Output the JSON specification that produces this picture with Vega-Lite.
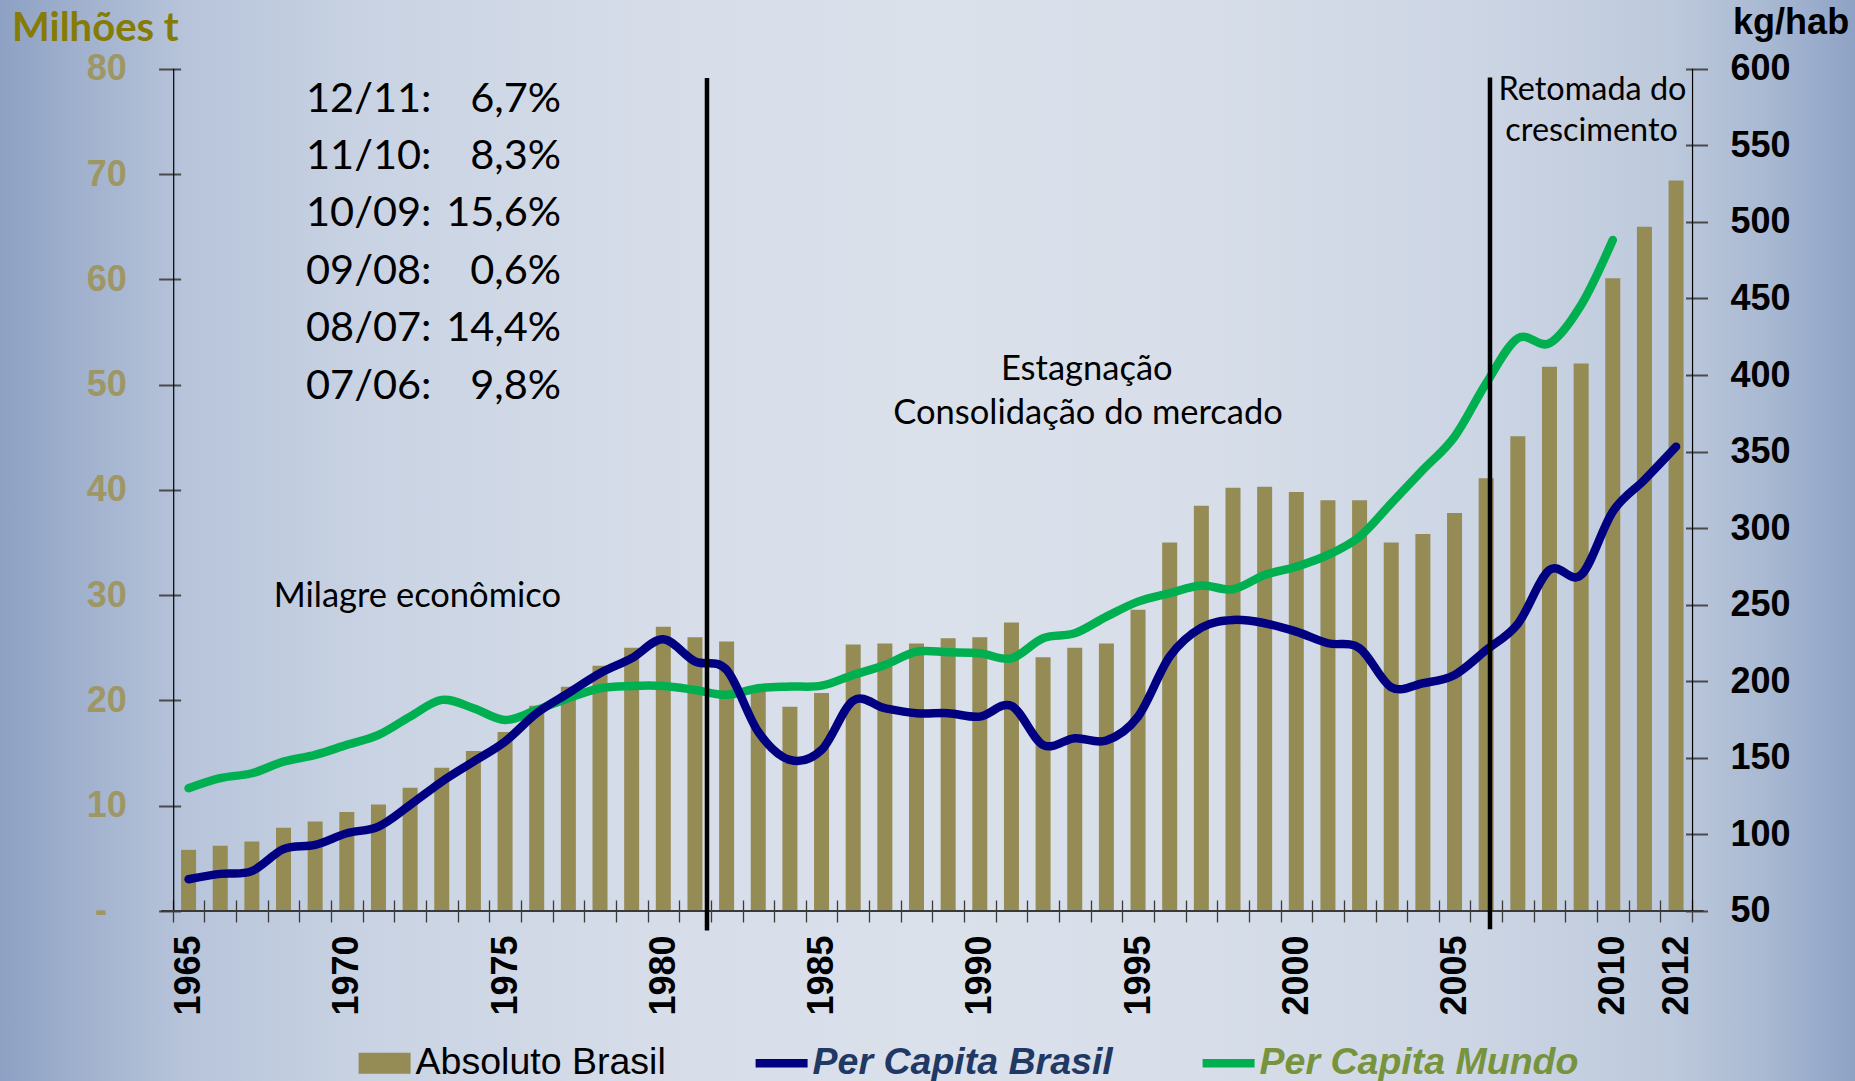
{
  "$schema": "https://vega.github.io/schema/vega-lite/v6.json",
  "width": 1855,
  "height": 1081,
  "autosize": {"type": "none"},
  "padding": 0,
  "background": "#C8D2E3",
  "view": {
    "stroke": null,
    "fill": {
      "gradient": "linear", "x1": 0, "y1": 0, "x2": 1, "y2": 0,
      "stops": [
        {"offset": 0.0, "color": "#8EA1C4"},
        {"offset": 0.05, "color": "#A3B3CF"},
        {"offset": 0.1, "color": "#B7C4DA"},
        {"offset": 0.2, "color": "#C9D3E3"},
        {"offset": 0.35, "color": "#D6DDE9"},
        {"offset": 0.5, "color": "#DBE1EB"},
        {"offset": 0.65, "color": "#D7DEE9"},
        {"offset": 0.8, "color": "#CCD5E4"},
        {"offset": 0.9, "color": "#BDC9DC"},
        {"offset": 0.95, "color": "#AABAD3"},
        {"offset": 1.0, "color": "#8EA2C5"}
      ]
    }
  },
  "config": {
    "axis": {"grid": false},
    "axisX": {"labelOverlap": false},
    "font": "Liberation Sans"
  },
  "datasets": {
    "main": [
      {"year": 1965, "abs": 5.8, "Per Capita Brasil": 70.7, "Per Capita Mundo": 130.1},
      {"year": 1966, "abs": 6.2, "Per Capita Brasil": 74.2, "Per Capita Mundo": 136.7},
      {"year": 1967, "abs": 6.6, "Per Capita Brasil": 76.0, "Per Capita Mundo": 139.9},
      {"year": 1968, "abs": 7.9, "Per Capita Brasil": 90.3, "Per Capita Mundo": 147.5},
      {"year": 1969, "abs": 8.5, "Per Capita Brasil": 93.1, "Per Capita Mundo": 151.9},
      {"year": 1970, "abs": 9.4, "Per Capita Brasil": 100.7, "Per Capita Mundo": 158.4},
      {"year": 1971, "abs": 10.1, "Per Capita Brasil": 105.1, "Per Capita Mundo": 164.9},
      {"year": 1972, "abs": 11.7, "Per Capita Brasil": 119.2, "Per Capita Mundo": 176.9},
      {"year": 1973, "abs": 13.6, "Per Capita Brasil": 134.4, "Per Capita Mundo": 187.8},
      {"year": 1974, "abs": 15.2, "Per Capita Brasil": 147.5, "Per Capita Mundo": 182.4},
      {"year": 1975, "abs": 17.0, "Per Capita Brasil": 160.6, "Per Capita Mundo": 174.7},
      {"year": 1976, "abs": 19.5, "Per Capita Brasil": 179.1, "Per Capita Mundo": 181.3},
      {"year": 1977, "abs": 21.3, "Per Capita Brasil": 192.2, "Per Capita Mundo": 188.9},
      {"year": 1978, "abs": 23.3, "Per Capita Brasil": 205.2, "Per Capita Mundo": 195.4},
      {"year": 1979, "abs": 25.0, "Per Capita Brasil": 215.0, "Per Capita Mundo": 196.9},
      {"year": 1980, "abs": 27.0, "Per Capita Brasil": 227.4, "Per Capita Mundo": 196.9},
      {"year": 1981, "abs": 26.0, "Per Capita Brasil": 213.0, "Per Capita Mundo": 194.3},
      {"year": 1982, "abs": 25.6, "Per Capita Brasil": 207.4, "Per Capita Mundo": 191.1},
      {"year": 1983, "abs": 21.0, "Per Capita Brasil": 167.0, "Per Capita Mundo": 195.4},
      {"year": 1984, "abs": 19.4, "Per Capita Brasil": 148.6, "Per Capita Mundo": 196.5},
      {"year": 1985, "abs": 20.7, "Per Capita Brasil": 155.1, "Per Capita Mundo": 197.1},
      {"year": 1986, "abs": 25.3, "Per Capita Brasil": 187.3, "Per Capita Mundo": 204.1},
      {"year": 1987, "abs": 25.4, "Per Capita Brasil": 182.4, "Per Capita Mundo": 210.6},
      {"year": 1988, "abs": 25.4, "Per Capita Brasil": 179.1, "Per Capita Mundo": 219.3},
      {"year": 1989, "abs": 25.9, "Per Capita Brasil": 179.1, "Per Capita Mundo": 218.9},
      {"year": 1990, "abs": 26.0, "Per Capita Brasil": 176.9, "Per Capita Mundo": 218.3},
      {"year": 1991, "abs": 27.4, "Per Capita Brasil": 183.9, "Per Capita Mundo": 215.0},
      {"year": 1992, "abs": 24.1, "Per Capita Brasil": 158.4, "Per Capita Mundo": 228.1},
      {"year": 1993, "abs": 25.0, "Per Capita Brasil": 162.8, "Per Capita Mundo": 231.3},
      {"year": 1994, "abs": 25.4, "Per Capita Brasil": 161.3, "Per Capita Mundo": 242.2},
      {"year": 1995, "abs": 28.6, "Per Capita Brasil": 176.9, "Per Capita Mundo": 252.0},
      {"year": 1996, "abs": 35.0, "Per Capita Brasil": 216.1, "Per Capita Mundo": 257.5},
      {"year": 1997, "abs": 38.5, "Per Capita Brasil": 235.0, "Per Capita Mundo": 262.5},
      {"year": 1998, "abs": 40.2, "Per Capita Brasil": 240.0, "Per Capita Mundo": 260.1},
      {"year": 1999, "abs": 40.3, "Per Capita Brasil": 237.9, "Per Capita Mundo": 269.4},
      {"year": 2000, "abs": 39.8, "Per Capita Brasil": 232.4, "Per Capita Mundo": 274.8},
      {"year": 2001, "abs": 39.0, "Per Capita Brasil": 224.8, "Per Capita Mundo": 282.5},
      {"year": 2002, "abs": 39.0, "Per Capita Brasil": 221.6, "Per Capita Mundo": 294.4},
      {"year": 2003, "abs": 35.0, "Per Capita Brasil": 196.1, "Per Capita Mundo": 316.2},
      {"year": 2004, "abs": 35.8, "Per Capita Brasil": 198.7, "Per Capita Mundo": 338.0},
      {"year": 2005, "abs": 37.8, "Per Capita Brasil": 204.1, "Per Capita Mundo": 359.7},
      {"year": 2006, "abs": 41.1, "Per Capita Brasil": 220.4, "Per Capita Mundo": 394.6},
      {"year": 2007, "abs": 45.1, "Per Capita Brasil": 237.5, "Per Capita Mundo": 424.0},
      {"year": 2008, "abs": 51.7, "Per Capita Brasil": 272.7, "Per Capita Mundo": 420.7},
      {"year": 2009, "abs": 52.0, "Per Capita Brasil": 269.4, "Per Capita Mundo": 445.7},
      {"year": 2010, "abs": 60.1, "Per Capita Brasil": 310.8, "Per Capita Mundo": 488.2},
      {"year": 2011, "abs": 65.0, "Per Capita Brasil": 331.5, "Per Capita Mundo": null},
      {"year": 2012, "abs": 69.4, "Per Capita Brasil": 353.2, "Per Capita Mundo": null}
    ],
    "growth": [
      {"p": "12/11:", "g": "6,7%", "v": 75.92},
      {"p": "11/10:", "g": "8,3%", "v": 70.47},
      {"p": "10/09:", "g": "15,6%", "v": 65.02},
      {"p": "09/08:", "g": "0,6%", "v": 59.57},
      {"p": "08/07:", "g": "14,4%", "v": 54.11},
      {"p": "07/06:", "g": "9,8%", "v": 48.66}
    ],
    "notesA": [
      {"t": "Milagre econômico", "x": 1972.23, "v": 28.9},
      {"t": "Estagnação", "x": 1993.38, "v": 50.42},
      {"t": "Consolidação do mercado", "x": 1993.42, "v": 46.24}
    ],
    "notesB": [
      {"t": "Retomada do", "x": 2009.36, "v": 77.03},
      {"t": "crescimento", "x": 2009.33, "v": 73.14}
    ],
    "dividers": [
      {"x": 1981.38, "top": 79.13, "bottom": -1.86},
      {"x": 2006.12, "top": 79.17, "bottom": -1.75}
    ]
  },
  "layer": [
    {
      "data": {"name": "main"},
      "mark": {"type": "bar", "width": 15, "color": "#958B55"},
      "encoding": {
        "x": {
          "field": "year", "type": "quantitative",
          "scale": {"domain": [1959.2, 2017.495], "nice": false, "zero": false},
          "axis": {
            "orient": "bottom", "offset": -181, "tickCount": 200,
            "values": [1964,1965,1966,1967,1968,1969,1970,1971,1972,1973,1974,1975,1976,1977,1978,1979,1980,1981,1982,1983,1984,1985,1986,1987,1988,1989,1990,1991,1992,1993,1994,1995,1996,1997,1998,1999,2000,2001,2002,2003,2004,2005,2006,2007,2008,2009,2010,2011,2012],
            "format": "d",
            "labelExpr": "indexof([1965,1970,1975,1980,1985,1990,1995,2000,2005,2010,2012], datum.value) >= 0 ? datum.label : ''",
            "labelFontSize": {"condition": {"test": "indexof([1965,1970,1975,1980,1985,1990,1995,2000,2005,2010,2012], datum.value) >= 0", "value": 36}, "value": 4},
            "tickOffset": 15.91, "labelOffset": -15.91,
            "domain": false, "ticks": true, "tickSize": 22, "tickColor": "#3a3a3a", "tickWidth": 1.3,
            "labelAngle": -90, "labelAlign": "right", "labelBaseline": "middle", "labelPadding": 13,
            "labelFont": "Liberation Sans", "labelFontWeight": "bold", "labelColor": "#000000",
            "labelOverlap": false, "labelFlush": false, "labelBound": false,
            "title": null, "grid": false
          }
        },
        "y": {
          "field": "abs", "type": "quantitative",
          "scale": {"domain": [-16.16, 86.536], "nice": false, "zero": false},
          "axis": {
            "orient": "left", "offset": -180.6,
            "values": [0, 10, 20, 30, 40, 50, 60, 70, 80],
            "labelExpr": "datum.value === 0 ? '-' : datum.label",
            "labelPadding": {"condition": {"test": "datum.value === 0", "value": 52}, "value": 32.3},
            "domain": false, "ticks": true, "tickSize": 22, "tickColor": "#4a4a4a", "tickWidth": 2,
            "labelFont": "Liberation Sans", "labelFontSize": 36, "labelFontWeight": "bold",
            "labelColor": "#9E9663", "labelBaseline": "middle",
            "title": "Milhões t", "titleFont": "Lato", "titleFontSize": 40, "titleFontWeight": "bold",
            "titleColor": "#857B05", "titleAngle": 0, "titleX": -169.1, "titleY": 40,
            "titleAlign": "left", "titleBaseline": "alphabetic", "grid": false
          }
        },
        "y2": {"datum": 0}
      }
    },
    {
      "data": {"values": [{}]},
      "mark": {"type": "rule", "color": "#000000", "strokeWidth": 1.2},
      "encoding": {
        "x": {"datum": 1964.53, "type": "quantitative", "scale": {"domain": [1959.2, 2017.495], "nice": false, "zero": false}},
        "y": {"datum": 0, "type": "quantitative", "scale": {"domain": [-16.16, 86.536], "nice": false, "zero": false}, "axis": null},
        "y2": {"datum": 80}
      }
    },
    {
      "data": {"values": [{}]},
      "mark": {"type": "rule", "color": "#3a3a3a", "strokeWidth": 2},
      "encoding": {
        "x": {"datum": 1964.13, "type": "quantitative", "scale": {"domain": [1959.2, 2017.495], "nice": false, "zero": false}},
        "x2": {"datum": 2012.87},
        "y": {"datum": 0, "type": "quantitative", "scale": {"domain": [-16.16, 86.536], "nice": false, "zero": false}, "axis": null}
      }
    },
    {
      "data": {"values": [{}]},
      "mark": {"type": "rule", "color": "#000000", "strokeWidth": 1.2},
      "encoding": {
        "x": {"datum": 2012.52, "type": "quantitative", "scale": {"domain": [1959.2, 2017.495], "nice": false, "zero": false}},
        "y": {"datum": 50, "type": "quantitative", "scale": {"domain": [-61.1, 644.93], "nice": false, "zero": false}, "axis": null},
        "y2": {"datum": 600}
      }
    },
    {
      "data": {"name": "growth"},
      "mark": {"type": "text", "font": "Lato", "fontSize": 41.5, "align": "left", "baseline": "alphabetic", "color": "#000000"},
      "encoding": {
        "x": {"datum": 1968.71, "type": "quantitative", "scale": {"domain": [1959.2, 2017.495], "nice": false, "zero": false}},
        "y": {"field": "v", "type": "quantitative", "scale": {"domain": [-16.16, 86.536], "nice": false, "zero": false}, "axis": null},
        "text": {"field": "p"}
      }
    },
    {
      "data": {"name": "growth"},
      "mark": {"type": "text", "font": "Lato", "fontSize": 41.5, "align": "right", "baseline": "alphabetic", "color": "#000000"},
      "encoding": {
        "x": {"datum": 1976.77, "type": "quantitative", "scale": {"domain": [1959.2, 2017.495], "nice": false, "zero": false}},
        "y": {"field": "v", "type": "quantitative", "scale": {"domain": [-16.16, 86.536], "nice": false, "zero": false}, "axis": null},
        "text": {"field": "g"}
      }
    },
    {
      "data": {"name": "notesA"},
      "mark": {"type": "text", "font": "Lato", "fontSize": 34.5, "align": "center", "baseline": "alphabetic", "color": "#000000"},
      "encoding": {
        "x": {"field": "x", "type": "quantitative", "scale": {"domain": [1959.2, 2017.495], "nice": false, "zero": false}},
        "y": {"field": "v", "type": "quantitative", "scale": {"domain": [-16.16, 86.536], "nice": false, "zero": false}, "axis": null},
        "text": {"field": "t"}
      }
    },
    {
      "data": {"name": "notesB"},
      "mark": {"type": "text", "font": "Lato", "fontSize": 32.4, "align": "center", "baseline": "alphabetic", "color": "#000000"},
      "encoding": {
        "x": {"field": "x", "type": "quantitative", "scale": {"domain": [1959.2, 2017.495], "nice": false, "zero": false}},
        "y": {"field": "v", "type": "quantitative", "scale": {"domain": [-16.16, 86.536], "nice": false, "zero": false}, "axis": null},
        "text": {"field": "t"}
      }
    },
    {
      "data": {"name": "main"},
      "transform": [{"fold": ["Per Capita Mundo", "Per Capita Brasil"], "as": ["serie", "kg"]}],
      "mark": {"type": "line", "interpolate": "cardinal", "strokeWidth": 8.5, "strokeCap": "round", "strokeJoin": "round"},
      "encoding": {
        "x": {
          "field": "year", "type": "quantitative",
          "scale": {"domain": [1959.2, 2017.495], "nice": false, "zero": false}
        },
        "y": {
          "field": "kg", "type": "quantitative",
          "scale": {"domain": [-61.1, 644.93], "nice": false, "zero": false},
          "axis": {
            "orient": "right", "offset": -169.5,
            "values": [50, 100, 150, 200, 250, 300, 350, 400, 450, 500, 550, 600],
            "domain": false, "ticks": true, "tickSize": 22, "tickColor": "#4a4a4a", "tickWidth": 2,
            "labelFont": "Liberation Sans", "labelFontSize": 36, "labelFontWeight": "bold",
            "labelColor": "#000000", "labelPadding": 22.5, "labelBaseline": "middle",
            "title": "kg/hab", "titleFont": "Liberation Sans", "titleFontSize": 36, "titleFontWeight": "bold",
            "titleColor": "#000000", "titleAngle": 0, "titleX": 47.1, "titleY": 33,
            "titleAlign": "left", "titleBaseline": "alphabetic", "grid": false
          }
        },
        "color": {
          "field": "serie", "type": "nominal",
          "scale": {
            "domain": ["Absoluto Brasil", "Per Capita Brasil", "Per Capita Mundo"],
            "range": ["#958B55", "#000080", "#00B050"]
          },
          "legend": {
            "orient": "none", "legendX": 358.6, "legendY": 1037,
            "direction": "horizontal", "title": null,
            "columnPadding": 89, "labelOffset": 5, "symbolSize": 2704,
            "labelFont": "Liberation Sans", "labelFontSize": 37.5, "labelLimit": 800,
            "padding": 0,
            "encode": {
              "symbols": {
                "update": {
                  "shape": [{"test": "datum.value === 'Absoluto Brasil'", "value": "M-1,-0.4H1V0.4H-1Z"}, {"value": "M-1,-0.16H1V0.16H-1Z"}],
                  "fill": [{"test": "datum.value === 'Absoluto Brasil'", "value": "#958B55"}, {"test": "datum.value === 'Per Capita Brasil'", "value": "#000080"}, {"value": "#00B050"}],
                  "stroke": {"value": "transparent"},
                  "strokeWidth": {"value": 0},
                  "opacity": {"value": 1},
                  "fillOpacity": {"value": 1},
                  "size": {"value": 2704}
                }
              },
              "labels": {
                "update": {
                  "fill": [{"test": "datum.value === 'Absoluto Brasil'", "value": "#000000"}, {"test": "datum.value === 'Per Capita Brasil'", "value": "#1F3864"}, {"value": "#77933C"}],
                  "fontStyle": [{"test": "datum.value === 'Absoluto Brasil'", "value": "normal"}, {"value": "italic"}],
                  "fontWeight": [{"test": "datum.value === 'Absoluto Brasil'", "value": "normal"}, {"value": "bold"}]
                }
              }
            }
          }
        }
      }
    },
    {
      "data": {"name": "dividers"},
      "mark": {"type": "rule", "color": "#000000", "strokeWidth": 4.5},
      "encoding": {
        "x": {"field": "x", "type": "quantitative", "scale": {"domain": [1959.2, 2017.495], "nice": false, "zero": false}},
        "y": {"field": "top", "type": "quantitative", "scale": {"domain": [-16.16, 86.536], "nice": false, "zero": false}, "axis": null},
        "y2": {"field": "bottom"}
      }
    }
  ],
  "resolve": {
    "scale": {"y": "independent"}
  }
}
